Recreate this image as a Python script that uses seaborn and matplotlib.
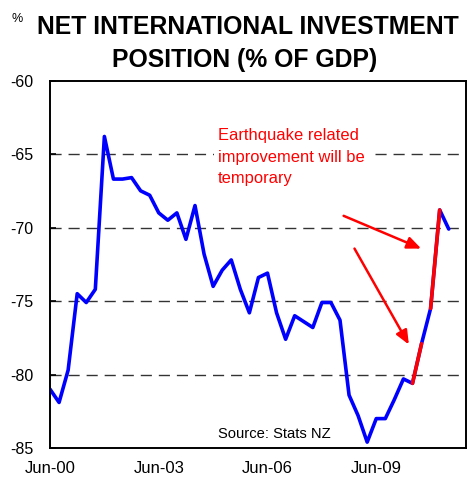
import matplotlib
matplotlib.use("Agg")
import matplotlib.pyplot as plt
import seaborn as sns
import pandas as pd
import numpy as np

# Quarterly NIIP (% of GDP), Jun-00 .. Jun-11
values = [-81.0, -81.9, -79.7, -74.5, -75.1, -74.2, -63.8, -66.7, -66.7, -66.6,
          -67.5, -67.8, -69.0, -69.5, -69.0, -70.8, -68.5, -71.8, -74.0, -72.9,
          -72.2, -74.2, -75.8, -73.4, -73.1, -75.8, -77.6, -76.0, -76.4, -76.8,
          -75.1, -75.1, -76.3, -81.4, -82.8, -84.6, -83.0, -83.0, -81.7, -80.3,
          -80.6, -77.9, -75.5, -68.8, -70.1]
tick_labels = ["Jun-00", "Jun-03", "Jun-06", "Jun-09"]
tick_pos = [0, 12, 24, 36]
red_segments = [(40, 41), (42, 43)]
annotation = "Earthquake related\nimprovement will be\ntemporary"
source = "Source: Stats NZ"

df = pd.DataFrame({"q": np.arange(len(values)), "v": values})

sns.set_theme(style="white")
plt.rcParams['font.family'] = ['Liberation Sans', 'DejaVu Sans']
plt.rcParams['text.color'] = 'black'

fig = plt.figure(figsize=(4.70, 4.79), dpi=100)
ax = fig.add_axes([0.1064, 0.0647, 0.885, 0.767])

sns.lineplot(data=df, x="q", y="v", ax=ax, color="#0000FF", linewidth=2.6)
for a, b in red_segments:
    seg = df[(df.q >= a) & (df.q <= b)]
    sns.lineplot(data=seg, x="q", y="v", ax=ax, color="#FF0000", linewidth=2.6)

ax.set_xlim(0, 45.9)
ax.set_ylim(-85, -60)
ax.set_yticks([-85, -80, -75, -70, -65, -60])
ax.set_yticklabels(["-85", "-80", "-75", "-70", "-65", "-60"])
ax.set_xticks(tick_pos)
ax.set_xticklabels(tick_labels)
ax.tick_params(axis="x", length=0, labelsize=12, colors="black", pad=9)
ax.tick_params(axis="y", direction="in", length=4, width=1.2, labelsize=11.5,
               colors="black", pad=12, left=True)
ax.set_xlabel("")
ax.set_ylabel("")

for g in [-65, -70, -75, -80]:
    ax.axhline(g, color="#333333", linewidth=1.0, linestyle=(0, (8, 5)), zorder=0)

for s in ax.spines.values():
    s.set_color("black")
    s.set_linewidth(1.4)

ax.text(18.5, -65.2, annotation, color="#FF0000", fontsize=11.9,
        va="center", ha="left", linespacing=1.55, zorder=3,
        bbox=dict(facecolor="white", edgecolor="none", pad=3))
ax.text(18.5, -84.3, source, color="black", fontsize=10.6, va="baseline", ha="left")

arrow_kw = dict(arrowstyle="-|>,head_length=0.7,head_width=0.3", color="#FF0000", lw=1.8,
                shrinkA=0, shrinkB=0)
ax.annotate("", xy=(40.96, -71.43), xytext=(32.4, -69.2), arrowprops=arrow_kw)
ax.annotate("", xy=(39.6, -77.96), xytext=(33.6, -71.43), arrowprops=arrow_kw)

fig.text(0.528, 0.93, "NET INTERNATIONAL INVESTMENT", ha="center", va="baseline",
         fontsize=17.8, fontweight="bold", color="black")
fig.text(0.52, 0.86, "POSITION (% OF GDP)", ha="center", va="baseline",
         fontsize=17.8, fontweight="bold", color="black")
fig.text(0.025, 0.955, "%", ha="left", va="baseline", fontsize=9, color="black")

fig.savefig("out.png", dpi=100)
